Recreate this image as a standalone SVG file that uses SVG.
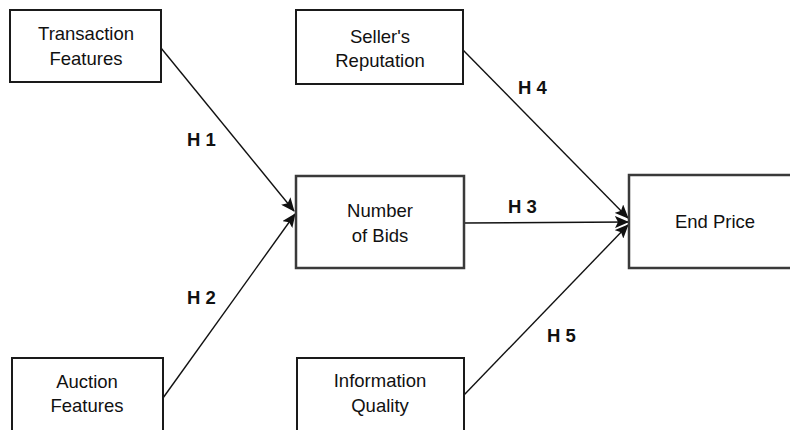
<svg xmlns="http://www.w3.org/2000/svg" width="790" height="430" viewBox="0 0 790 430">
<style>
.box{fill:#fff;stroke:#1a1a1a;stroke-width:2}
.box2{fill:#fff;stroke:#3a3a3a;stroke-width:2.5}
.t{font-family:"Liberation Sans",Arial,sans-serif;font-size:18.5px;fill:#111;text-anchor:middle}
.h{font-family:"Liberation Sans",Arial,sans-serif;font-size:18.5px;font-weight:bold;fill:#111}
.c{stroke:#111;stroke-width:1.4;fill:none;marker-end:url(#ah)}
</style>
<defs>
<marker id="ah" markerUnits="userSpaceOnUse" markerWidth="14" markerHeight="12" viewBox="0 0 14 12" refX="13" refY="6" orient="auto">
<path d="M0,0 L14,6 L0,12 L3,6 z" fill="#111"/>
</marker>
</defs>
<rect width="790" height="430" fill="#fff"/>
<g id="connectors">
<line class="c" x1="161" y1="48" x2="294" y2="211"/>
<line class="c" x1="163" y1="398" x2="295" y2="214"/>
<line class="c" x1="464" y1="223" x2="628" y2="222"/>
<line class="c" x1="463" y1="50" x2="628" y2="218"/>
<line class="c" x1="464" y1="395" x2="628" y2="225"/>
<text class="h" x="187" y="146">H 1</text>
<text class="h" x="187" y="304">H 2</text>
<text class="h" x="508" y="213">H 3</text>
<text class="h" x="518" y="94">H 4</text>
<text class="h" x="547" y="342">H 5</text>
</g>
<g id="transaction">
<rect class="box" x="10" y="10" width="151" height="72"/>
<text class="t" x="86" y="40">Transaction</text>
<text class="t" x="86" y="65">Features</text>
</g>
<g id="seller">
<rect class="box" x="296" y="10" width="167" height="74"/>
<text class="t" x="380" y="43">Seller's</text>
<text class="t" x="380" y="67">Reputation</text>
</g>
<g id="bids">
<rect class="box2" x="296" y="176" width="168" height="92"/>
<text class="t" x="380" y="217">Number</text>
<text class="t" x="380" y="242">of Bids</text>
</g>
<g id="endprice">
<rect class="box2" x="629" y="175" width="180" height="93"/>
<text class="t" x="715" y="228">End Price</text>
</g>
<g id="auction">
<rect class="box" x="12" y="358" width="151" height="90"/>
<text class="t" x="87" y="388">Auction</text>
<text class="t" x="87" y="412">Features</text>
</g>
<g id="information">
<rect class="box" x="297" y="358" width="167" height="90"/>
<text class="t" x="380" y="387">Information</text>
<text class="t" x="380" y="412">Quality</text>
</g>
</svg>
